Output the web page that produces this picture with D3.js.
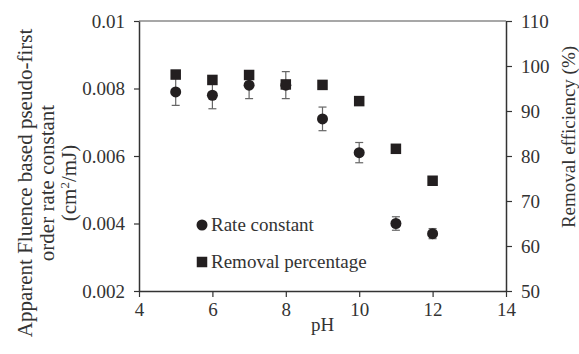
<!DOCTYPE html>
<html lang="en">
<head>
    <meta charset="UTF-8">
    <title>Rate constant and removal vs pH</title>
    <script src="https://d3js.org/d3.v7.min.js"></script>
    <style>
        body { margin: 0; background: #fff; }
        svg text { font-family: "Liberation Serif", "Times New Roman", serif; fill: #333; }
        .tick text { font-size: 19px; }
    </style>
</head>
<body>
    <svg id="chart"></svg>
    <script>
        // Data
        const phValues = [5, 6, 7, 8, 9, 10, 11, 12];
        const rateConstant = [0.0079, 0.0078, 0.0081, 0.0081, 0.0071, 0.0061, 0.0040, 0.0037];
        const rateError = [0.0004, 0.0004, 0.0004, 0.0004, 0.00035, 0.0003, 0.0002, 0.00015];
        const removalPct = [98.1, 96.9, 98.0, 95.9, 95.8, 92.2, 81.6, 74.5];
        const xTicks = [4, 6, 8, 10, 12, 14];
        const yLeftTicks = [0.002, 0.004, 0.006, 0.008, 0.01];
        const yRightTicks = [50, 60, 70, 80, 90, 100, 110];

        const width = 579, height = 354;
        const margin = { top: 21, right: 73, bottom: 63, left: 139 };

        const svg = d3.select('#chart')
            .attr('width', width)
            .attr('height', height);

        const x = d3.scaleLinear().domain([4, 14]).range([margin.left, width - margin.right]);
        const yL = d3.scaleLinear().domain([0.002, 0.01]).range([height - margin.bottom, margin.top]);
        const yR = d3.scaleLinear().domain([50, 110]).range([height - margin.bottom, margin.top]);

        // top border
        svg.append('line')
            .attr('x1', x(4)).attr('x2', x(14))
            .attr('y1', yL(0.01)).attr('y2', yL(0.01))
            .attr('stroke', '#8a8a8a').attr('stroke-width', 1.5);

        // axes
        const styleAxis = g => {
            g.selectAll('.domain').attr('stroke', '#333').attr('stroke-width', 1.5);
            g.selectAll('.tick line').attr('stroke', '#333').attr('stroke-width', 1.2);
        };

        svg.append('g')
            .attr('transform', `translate(0,${height - margin.bottom})`)
            .call(d3.axisBottom(x).tickValues(xTicks).tickSize(6).tickSizeOuter(0).tickPadding(6))
            .call(styleAxis);

        svg.append('g')
            .attr('transform', `translate(${margin.left},0)`)
            .call(d3.axisLeft(yL).tickValues(yLeftTicks).tickFormat(d3.format('')).tickSize(5).tickSizeOuter(0).tickPadding(9))
            .call(styleAxis);

        svg.append('g')
            .attr('transform', `translate(${width - margin.right},0)`)
            .call(d3.axisRight(yR).tickValues(yRightTicks).tickSize(6).tickSizeOuter(0).tickPadding(9))
            .call(styleAxis);

        svg.selectAll('.tick text').attr('fill', '#333').style('font-family', '"Liberation Serif", serif');

        // error bars for rate constant
        const err = svg.append('g').attr('stroke', '#666').attr('stroke-width', 1.2);
        phValues.forEach((p, i) => {
            const cx = x(p);
            const y1 = yL(rateConstant[i] - rateError[i]);
            const y2 = yL(rateConstant[i] + rateError[i]);
            err.append('line').attr('x1', cx).attr('x2', cx).attr('y1', y1).attr('y2', y2);
            err.append('line').attr('x1', cx - 4).attr('x2', cx + 4).attr('y1', y1).attr('y2', y1);
            err.append('line').attr('x1', cx - 4).attr('x2', cx + 4).attr('y1', y2).attr('y2', y2);
        });

        // rate constant circles
        svg.selectAll('.pt-rate')
            .data(phValues)
            .enter()
            .append('circle')
            .attr('class', 'pt-rate')
            .attr('cx', d => x(d))
            .attr('cy', (d, i) => yL(rateConstant[i]))
            .attr('r', 5.5)
            .attr('fill', '#231f20');

        // removal squares
        const sq = 10.5;
        svg.selectAll('.pt-rem')
            .data(phValues)
            .enter()
            .append('rect')
            .attr('class', 'pt-rem')
            .attr('x', d => x(d) - sq / 2)
            .attr('y', (d, i) => yR(removalPct[i]) - sq / 2)
            .attr('width', sq)
            .attr('height', sq)
            .attr('fill', '#231f20');

        // legend
        const legend = svg.append('g');
        legend.append('circle').attr('cx', 202).attr('cy', 225).attr('r', 5.5).attr('fill', '#231f20');
        legend.append('text').attr('x', 211).attr('y', 231).attr('font-size', 19).text('Rate constant');
        legend.append('rect').attr('x', 202 - sq / 2).attr('y', 262 - sq / 2).attr('width', sq).attr('height', sq).attr('fill', '#231f20');
        legend.append('text').attr('x', 211).attr('y', 268).attr('font-size', 19).text('Removal percentage');

        // x-axis label
        svg.append('text')
            .attr('x', (x(4) + x(14)) / 2)
            .attr('y', 331)
            .attr('text-anchor', 'middle')
            .attr('font-size', 19)
            .text('pH');

        // left y-axis label (three lines)
        const leftTitle = svg.append('text')
            .attr('transform', 'translate(0,183) rotate(-90)')
            .attr('text-anchor', 'middle')
            .attr('font-size', 21);
        leftTitle.append('tspan').attr('x', 0).attr('y', 32).text('Apparent Fluence based pseudo-first');
        leftTitle.append('tspan').attr('x', 0).attr('y', 54).text('order rate constant');
        leftTitle.append('tspan').attr('x', 0).attr('y', 76).text('(cm');
        leftTitle.append('tspan').attr('dy', -7).attr('font-size', 13).text('2');
        leftTitle.append('tspan').attr('dy', 7).text('/mJ)');

        // right y-axis label
        svg.append('text')
            .attr('transform', 'translate(575,137) rotate(-90)')
            .attr('text-anchor', 'middle')
            .attr('font-size', 19)
            .text('Removal efficiency (%)');
    </script>
</body>
</html>
